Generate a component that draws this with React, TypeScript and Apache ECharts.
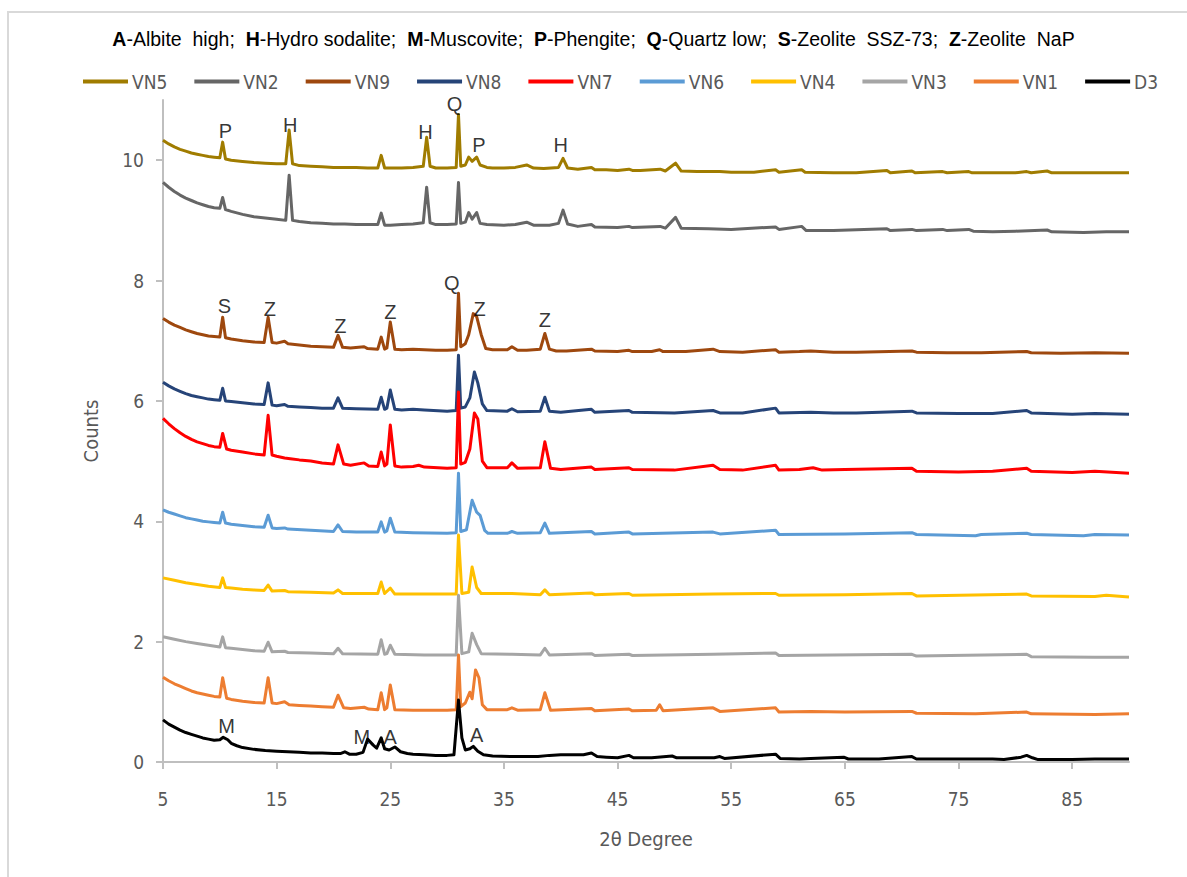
import React, { useEffect, useRef } from "react";
import * as echarts from "echarts";

const NB = "\u00A0";

// Phase key shown above the legend: [bold letter, description]
const phaseKey: [string, string][] = [
  ["A", "-Albite  high;  "],
  ["H", "-Hydro sodalite;  "],
  ["M", "-Muscovite;  "],
  ["P", "-Phengite;  "],
  ["Q", "-Quartz low;  "],
  ["S", "-Zeolite  SSZ-73;  "],
  ["Z", "-Zeolite  NaP"],
];

const seriesNames = ["VN5", "VN2", "VN9", "VN8", "VN7", "VN6", "VN4", "VN3", "VN1", "D3"];
const seriesColors = ["#A07C00", "#666666", "#9E480E", "#264478", "#FF0000", "#5B9BD5", "#FFC000", "#A5A5A5", "#ED7D31", "#000000"];

const xTicks = [5, 15, 25, 35, 45, 55, 65, 75, 85];
const yTicks = [0, 2, 4, 6, 8, 10];

// Diffractograms, offset vertically: [2θ, counts]
const vn5 = [[5,10.33],[5.5,10.27],[6,10.22],[6.5,10.18],[7,10.15],[7.5,10.12],[8,10.1],[8.5,10.08],[9,10.06],[9.5,10.05],[10,10.04],[10.25,10.3],[10.5,10.02],[11,10.0],[12,9.98],[13,9.96],[14,9.95],[15,9.94],[15.8,9.94],[16.1,10.5],[16.4,9.94],[17,9.91],[18,9.9],[19,9.89],[20,9.88],[21,9.88],[22,9.88],[23,9.87],[23.9,9.87],[24.2,10.08],[24.5,9.87],[25,9.87],[26,9.87],[27,9.88],[27.9,9.9],[28.2,10.38],[28.5,9.9],[29,9.87],[30,9.87],[30.8,9.88],[31.0,10.76],[31.2,9.9],[31.6,9.92],[31.9,10.05],[32.2,9.98],[32.6,10.05],[32.9,9.92],[33.5,9.88],[34,9.87],[35,9.87],[36,9.88],[37,9.92],[37.6,9.87],[38.5,9.86],[39.8,9.88],[40.2,10.03],[40.6,9.87],[41.5,9.85],[42.7,9.88],[43,9.84],[44,9.84],[45,9.83],[46,9.85],[46.3,9.83],[47,9.83],[48.75,9.85],[49.2,9.82],[50.1,9.95],[50.6,9.82],[52,9.81],[54,9.81],[55,9.8],[57,9.8],[58.9,9.84],[59.2,9.8],[61.2,9.84],[61.5,9.8],[64,9.79],[66,9.79],[68.7,9.83],[69,9.79],[70.9,9.82],[71.2,9.79],[73.6,9.81],[74,9.79],[75.9,9.81],[76.2,9.79],[78,9.79],[80,9.79],[81,9.81],[81.4,9.79],[82.8,9.82],[83.2,9.79],[86,9.79],[90,9.79]];
const vn2 = [[5,9.63],[5.5,9.55],[6,9.48],[6.5,9.42],[7,9.37],[7.5,9.33],[8,9.29],[8.5,9.26],[9,9.23],[9.5,9.21],[10,9.2],[10.25,9.38],[10.5,9.18],[11,9.15],[12,9.1],[13,9.06],[14,9.04],[15,9.02],[15.8,9.0],[16.1,9.75],[16.4,9.0],[17,8.98],[18,8.96],[19,8.95],[20,8.94],[21,8.94],[22,8.93],[23,8.93],[23.9,8.93],[24.2,9.12],[24.5,8.92],[25,8.92],[26,8.93],[27,8.94],[27.9,8.96],[28.2,9.55],[28.5,8.96],[29,8.93],[30,8.93],[30.8,8.94],[31.0,9.63],[31.2,8.95],[31.6,8.97],[31.9,9.13],[32.2,9.02],[32.6,9.13],[32.9,8.95],[33.5,8.93],[35,8.92],[36,8.93],[37,8.97],[37.6,8.92],[39,8.92],[39.8,8.95],[40.2,9.17],[40.6,8.94],[41.5,8.9],[42.7,8.93],[43,8.89],[45,8.88],[46,8.9],[46.3,8.88],[48.75,8.9],[49.2,8.87],[50.1,9.05],[50.6,8.87],[53,8.86],[55,8.85],[58.9,8.89],[59.2,8.85],[61.2,8.9],[61.6,8.83],[64,8.83],[68.7,8.86],[69,8.83],[70.9,8.85],[71.3,8.83],[73.6,8.85],[74,8.83],[75.9,8.85],[76.3,8.82],[78,8.81],[80,8.82],[82.8,8.84],[83.2,8.81],[86,8.8],[88,8.81],[90,8.81]];
const vn9 = [[5,7.37],[5.5,7.31],[6,7.26],[6.5,7.22],[7,7.18],[7.5,7.15],[8,7.12],[8.5,7.1],[9,7.08],[9.5,7.07],[10,7.06],[10.25,7.39],[10.5,7.05],[11,7.03],[12,7.0],[13,6.98],[13.9,6.97],[14.25,7.39],[14.6,6.97],[15,6.96],[15.7,6.99],[16,6.95],[17,6.93],[18,6.91],[19,6.9],[20,6.89],[20.4,7.09],[20.8,6.89],[21.5,6.88],[22.7,6.9],[23,6.87],[23.9,6.86],[24.2,7.06],[24.5,6.86],[24.7,6.88],[25.0,7.31],[25.4,6.86],[26,6.85],[27,6.86],[28,6.85],[29,6.84],[30,6.84],[30.8,6.85],[31.0,7.79],[31.2,6.9],[31.6,6.95],[31.9,7.1],[32.3,7.45],[32.6,7.4],[33.0,7.1],[33.4,6.87],[34,6.85],[35.3,6.85],[35.7,6.9],[36.2,6.84],[37,6.84],[38.2,6.86],[38.6,7.12],[39.0,6.86],[39.6,6.83],[40.5,6.83],[42.7,6.86],[43,6.83],[45,6.82],[46,6.84],[46.3,6.82],[48,6.82],[48.7,6.85],[49,6.82],[51,6.82],[53.4,6.86],[54,6.82],[56,6.81],[58.9,6.85],[59.2,6.81],[61,6.82],[62,6.83],[64,6.81],[66,6.81],[70.9,6.83],[71.3,6.81],[74,6.8],[77,6.8],[81,6.82],[81.4,6.8],[84,6.79],[87,6.8],[90,6.79]];
const vn8 = [[5,6.31],[5.5,6.25],[6,6.2],[6.5,6.16],[7,6.12],[7.5,6.09],[8,6.07],[8.5,6.05],[9,6.03],[9.5,6.02],[10,6.01],[10.25,6.21],[10.5,6.0],[11,5.99],[12,5.97],[13,5.95],[13.9,5.94],[14.25,6.3],[14.6,5.93],[15,5.92],[15.7,5.94],[16,5.91],[17,5.9],[18,5.89],[19,5.88],[20,5.88],[20.4,6.05],[20.8,5.88],[22,5.87],[23.9,5.86],[24.2,6.06],[24.5,5.86],[24.7,5.88],[25.0,6.18],[25.4,5.86],[26,5.85],[27,5.86],[28,5.85],[30,5.83],[30.8,5.84],[31.0,6.76],[31.2,5.88],[31.6,5.9],[32.0,6.05],[32.4,6.48],[32.7,6.3],[33.1,5.95],[33.5,5.84],[35.3,5.83],[35.7,5.87],[36.2,5.82],[38.2,5.83],[38.6,6.06],[39.0,5.83],[40,5.81],[42.7,5.86],[43,5.81],[46,5.84],[46.3,5.81],[50,5.8],[53.4,5.84],[54,5.8],[56,5.8],[58.9,5.88],[59.2,5.8],[62,5.81],[64,5.8],[66,5.8],[70.9,5.83],[71.3,5.8],[75,5.79],[78,5.79],[81,5.84],[81.4,5.8],[85,5.78],[87,5.79],[90,5.78]];
const vn7 = [[5,5.71],[5.5,5.62],[6,5.54],[6.5,5.47],[7,5.41],[7.5,5.36],[8,5.32],[8.5,5.29],[9,5.26],[9.5,5.24],[10,5.23],[10.25,5.46],[10.6,5.2],[11,5.18],[12,5.15],[13,5.12],[13.9,5.1],[14.25,5.76],[14.6,5.1],[15,5.08],[15.7,5.05],[16.2,5.04],[17,5.02],[18,5.0],[19,4.97],[20,4.95],[20.4,5.27],[20.9,4.95],[21.5,4.93],[22.7,4.97],[23.1,4.92],[23.9,4.91],[24.2,5.15],[24.5,4.92],[24.7,4.95],[25.0,5.6],[25.4,4.92],[26,4.9],[27,4.91],[27.5,4.93],[28,4.9],[30,4.88],[30.8,4.89],[31.0,6.15],[31.2,4.95],[31.6,4.98],[32.0,5.2],[32.4,5.8],[32.7,5.7],[33.1,5.0],[33.5,4.89],[35.3,4.89],[35.7,4.97],[36.2,4.88],[38.2,4.89],[38.6,5.32],[39.1,4.88],[40,4.86],[42.7,4.9],[43,4.86],[46,4.89],[46.3,4.86],[50,4.85],[53.4,4.93],[54,4.86],[56,4.85],[58.9,4.93],[59.2,4.85],[61,4.86],[62.2,4.89],[63,4.85],[65,4.86],[70.9,4.88],[71.3,4.83],[75,4.82],[78,4.83],[81,4.88],[81.4,4.83],[85,4.81],[87,4.83],[90,4.8]];
const vn6 = [[5,4.19],[5.5,4.15],[6,4.12],[6.5,4.09],[7,4.06],[7.5,4.04],[8,4.02],[8.5,4.0],[9,3.99],[9.5,3.98],[10,3.97],[10.25,4.15],[10.5,3.97],[11,3.95],[12,3.93],[13,3.91],[13.9,3.9],[14.25,4.1],[14.6,3.89],[15,3.88],[15.7,3.89],[16,3.87],[18,3.85],[20,3.83],[20.4,3.94],[20.8,3.83],[22,3.82],[23.9,3.82],[24.2,3.99],[24.5,3.82],[24.7,3.84],[25.0,4.05],[25.4,3.82],[27,3.81],[30,3.8],[30.8,3.81],[31.0,4.8],[31.2,3.83],[31.7,3.86],[32.2,4.35],[32.6,4.15],[32.9,4.1],[33.3,3.85],[33.6,3.8],[35.3,3.8],[35.7,3.83],[36.2,3.8],[38.2,3.81],[38.6,3.97],[39.0,3.8],[42.7,3.83],[43,3.79],[46,3.82],[46.3,3.79],[53.4,3.82],[54,3.79],[58.9,3.85],[59.2,3.78],[65,3.79],[70.9,3.81],[71.3,3.78],[76.5,3.76],[77,3.78],[81,3.8],[81.4,3.78],[86,3.76],[87,3.78],[90,3.77]];
const vn4 = [[5,3.06],[6,3.02],[7,2.98],[8,2.95],[9,2.92],[10,2.9],[10.25,3.06],[10.5,2.9],[11,2.89],[12,2.87],[13,2.86],[13.9,2.85],[14.25,2.94],[14.6,2.84],[15.7,2.85],[16,2.83],[18,2.82],[20,2.81],[20.4,2.86],[20.8,2.8],[23.9,2.8],[24.2,2.99],[24.5,2.8],[25.0,2.89],[25.4,2.79],[28,2.79],[30.8,2.79],[31.0,3.77],[31.3,2.8],[31.9,2.82],[32.2,3.24],[32.6,2.9],[33.0,2.8],[35.7,2.8],[38.2,2.78],[38.6,2.86],[39.0,2.78],[42.7,2.81],[43,2.78],[46,2.8],[46.3,2.77],[53.4,2.79],[58.9,2.8],[59.2,2.77],[65,2.78],[70.9,2.8],[71.3,2.76],[81,2.79],[81.4,2.76],[87,2.75],[88,2.77],[90,2.74]];
const vn3 = [[5,2.08],[6,2.04],[7,2.0],[8,1.97],[9,1.94],[10,1.91],[10.25,2.08],[10.5,1.9],[11,1.89],[12,1.87],[13,1.85],[13.9,1.84],[14.25,1.99],[14.6,1.83],[15.7,1.84],[16,1.82],[18,1.81],[20,1.8],[20.4,1.89],[20.8,1.8],[23.9,1.79],[24.2,2.03],[24.5,1.79],[24.7,1.8],[25.0,1.94],[25.4,1.79],[28,1.78],[30.8,1.78],[31.0,2.77],[31.3,1.8],[31.9,1.83],[32.2,2.14],[32.6,1.95],[33.0,1.8],[35.7,1.79],[38.2,1.78],[38.6,1.89],[39.0,1.78],[42.7,1.8],[43,1.77],[46,1.79],[46.3,1.77],[53.4,1.79],[58.9,1.81],[59.2,1.77],[70.9,1.79],[71.3,1.76],[81,1.79],[81.4,1.75],[87,1.74],[90,1.74]];
const vn1 = [[5,1.41],[5.5,1.35],[6,1.3],[6.5,1.26],[7,1.22],[7.5,1.18],[8,1.15],[8.5,1.13],[9,1.11],[9.5,1.09],[10,1.08],[10.25,1.4],[10.6,1.06],[11,1.04],[12,1.01],[13,0.99],[13.9,0.98],[14.25,1.4],[14.6,0.98],[15,0.97],[15.7,1.0],[16.1,0.95],[17,0.94],[18,0.93],[19,0.92],[20,0.91],[20.4,1.11],[20.9,0.9],[21.5,0.89],[22.7,0.91],[23.1,0.88],[23.9,0.87],[24.2,1.15],[24.5,0.87],[24.7,0.9],[25.0,1.28],[25.4,0.87],[27,0.86],[30,0.86],[30.8,0.87],[31.0,1.78],[31.2,0.92],[31.6,0.98],[32.0,1.16],[32.2,1.05],[32.5,1.53],[32.8,1.4],[33.1,0.95],[33.5,0.87],[35.3,0.87],[35.7,0.9],[36.2,0.86],[38.2,0.87],[38.6,1.15],[39.1,0.86],[42.7,0.89],[43,0.85],[46,0.88],[46.3,0.85],[48.4,0.86],[48.7,0.95],[49.0,0.85],[53.4,0.9],[54,0.84],[58.9,0.9],[59.2,0.83],[62,0.84],[65,0.83],[70.9,0.84],[71.3,0.81],[76.5,0.8],[81,0.83],[81.4,0.8],[87,0.79],[90,0.8]];
const d3 = [[5,0.7],[5.5,0.63],[6,0.58],[6.5,0.53],[7,0.49],[7.5,0.46],[8,0.43],[8.5,0.4],[9,0.38],[9.5,0.36],[10,0.37],[10.3,0.41],[10.7,0.37],[11,0.31],[11.5,0.27],[12,0.24],[13,0.21],[14,0.19],[15,0.18],[16,0.17],[17,0.16],[18,0.15],[19,0.15],[20,0.14],[20.6,0.14],[21.0,0.17],[21.4,0.13],[22,0.13],[22.6,0.16],[23.0,0.38],[23.5,0.28],[23.8,0.23],[24.2,0.4],[24.5,0.22],[24.9,0.2],[25.4,0.25],[25.9,0.17],[26.5,0.14],[27,0.13],[28,0.12],[29,0.11],[30,0.11],[30.6,0.12],[31.0,1.03],[31.3,0.4],[31.6,0.2],[32.0,0.22],[32.3,0.26],[32.7,0.18],[33.2,0.12],[34,0.1],[36,0.09],[38,0.09],[39,0.11],[40,0.12],[41,0.12],[42,0.12],[42.7,0.15],[43.2,0.09],[44,0.08],[45,0.07],[46,0.11],[46.4,0.07],[48,0.07],[49.8,0.1],[50.2,0.07],[53.5,0.07],[54,0.09],[54.4,0.06],[58.9,0.13],[59.3,0.06],[61,0.05],[62,0.06],[64.9,0.08],[65.3,0.05],[68,0.05],[70.9,0.09],[71.3,0.05],[75,0.05],[78,0.05],[79,0.04],[80.5,0.08],[81,0.11],[81.5,0.07],[82,0.04],[85,0.04],[87,0.05],[90,0.05]];

const seriesData = [vn5, vn2, vn9, vn8, vn7, vn6, vn4, vn3, vn1, d3];

// Phase identification letters placed above peaks: [2θ, counts, letter]
const phaseLabels: [number, number, string][] = [
  [10.5, 10.48, "P"], [16.2, 10.59, "H"], [28.1, 10.46, "H"], [30.66, 10.93, "Q"], [32.8, 10.25, "P"], [40.0, 10.25, "H"],
  [10.4, 7.57, "S"], [14.4, 7.52, "Z"], [20.6, 7.24, "Z"], [25.0, 7.47, "Z"], [30.4, 7.96, "Q"], [32.86, 7.52, "Z"], [38.6, 7.34, "Z"],
  [10.6, 0.59, "M"], [22.5, 0.42, "M"], [25.0, 0.42, "A"], [32.6, 0.45, "A"],
];

const narrow = "'Liberation Sans Narrow', 'DejaVu Sans Condensed', 'Liberation Sans', sans-serif";
const sans = "'Liberation Sans', Arial, sans-serif";

export default function App() {
  const ref = useRef<HTMLDivElement>(null);

  useEffect(() => {
    if (!ref.current) return;
    const chart = echarts.init(ref.current, undefined, { renderer: "svg" });

    // SVG collapses repeated spaces, so keep the key's wide spacing with no-break spaces
    const titleText = phaseKey
      .map(([b, d]) => `{b|${b}}{n|${d.replace(/ {2}/g, " " + NB)}}`)
      .join("");

    chart.setOption({
      animation: false,
      backgroundColor: "#FFFFFF",
      title: {
        text: titleText,
        left: "center",
        top: 24,
        textStyle: {
          fontWeight: "normal",
          rich: {
            b: { fontFamily: sans, fontSize: 19.5, fontWeight: "bold", color: "#000000" },
            n: { fontFamily: sans, fontSize: 19.5, fontWeight: "normal", color: "#000000" },
          },
        },
      },
      legend: {
        data: seriesNames,
        top: 67,
        left: 78,
        icon: "rect",
        itemWidth: 45,
        itemHeight: 4,
        itemGap: 27,
        textStyle: { fontFamily: narrow, fontSize: 19, color: "#595959", padding: [0, 0, 0, -1] },
      },
      graphic: [
        {
          type: "rect",
          shape: { x: 8, y: 12, width: 1200, height: 900 },
          style: { fill: "none", stroke: "#D9D9D9", lineWidth: 2 },
          silent: true,
        },
      ],
      grid: { left: 163, right: 58, top: 100, bottom: 115 },
      xAxis: {
        type: "value",
        min: 5,
        max: 90,
        name: "2θ Degree",
        nameLocation: "middle",
        nameGap: 67,
        nameTextStyle: { fontFamily: narrow, fontSize: 20, color: "#595959" },
        axisLine: { show: true, lineStyle: { color: "#BFBFBF", width: 2 } },
        axisTick: { show: true, customValues: xTicks, length: 7, lineStyle: { color: "#BFBFBF", width: 2 } },
        axisLabel: { customValues: xTicks, fontFamily: narrow, fontSize: 19, color: "#595959", margin: 27 },
        splitLine: { show: false },
      },
      yAxis: {
        type: "value",
        min: 0,
        max: 11,
        name: "Counts",
        nameLocation: "middle",
        nameGap: 62,
        nameRotate: 90,
        nameTextStyle: { fontFamily: narrow, fontSize: 20, color: "#595959" },
        axisLine: { show: true, lineStyle: { color: "#BFBFBF", width: 2 } },
        axisTick: { show: true, customValues: yTicks, length: 7, lineStyle: { color: "#BFBFBF", width: 2 } },
        axisLabel: { customValues: yTicks, fontFamily: narrow, fontSize: 19, color: "#595959", margin: 19 },
        splitLine: { show: false },
      },
      series: [
        ...seriesNames.map((name, i) => ({
          name,
          type: "line",
          data: seriesData[i],
          showSymbol: false,
          symbol: "none",
          color: seriesColors[i],
          lineStyle: { color: seriesColors[i], width: 3, join: "round" },
          z: 2 + i * 0.01,
        })),
        {
          name: "phases",
          type: "scatter",
          data: phaseLabels,
          symbolSize: 0,
          silent: true,
          z: 5,
          label: {
            show: true,
            position: "inside",
            formatter: (p: any) => p.value[2],
            fontFamily: sans,
            fontSize: 20,
            color: "#000000",
          },
        },
      ],
    });

    return () => chart.dispose();
  }, []);

  return (
    <div
      ref={ref}
      style={{ position: "absolute", left: 0, top: 0, width: 1187, height: 877, background: "#FFFFFF" }}
    />
  );
}
